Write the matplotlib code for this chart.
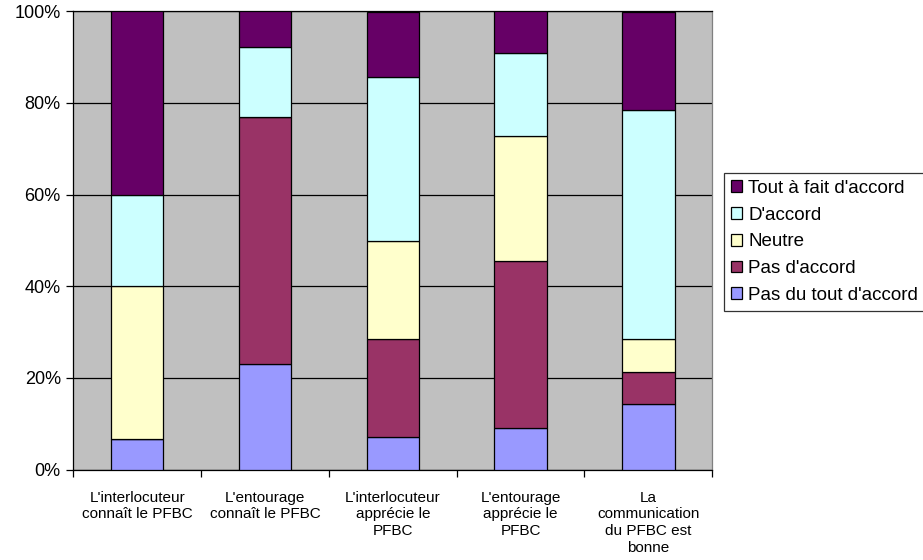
import numpy as np
import matplotlib.pyplot as plt
from matplotlib.ticker import FixedLocator, PercentFormatter

plt.rcParams['font.family'] = ['Liberation Sans', 'DejaVu Sans']

# ====================== DONNEES ======================
categories = [
    "L'interlocuteur\nconnaît le PFBC",
    "L'entourage\nconnaît le PFBC",
    "L'interlocuteur\napprécie le\nPFBC",
    "L'entourage\napprécie le\nPFBC",
    "La\ncommunication\ndu PFBC est\nbonne",
]

# pourcentages, du bas vers le haut
pas_du_tout = [6.7, 23.1, 7.1, 9.1, 14.3]
pas_accord = [0.0, 53.8, 21.4, 36.4, 7.1]
neutre = [33.3, 0.0, 21.4, 27.3, 7.1]
accord = [20.0, 15.4, 35.7, 18.2, 50.0]
tout_a_fait = [40.0, 7.7, 14.3, 9.1, 21.4]

series = [
    ("Pas du tout d'accord", pas_du_tout, "#9999FF"),
    ("Pas d'accord", pas_accord, "#993366"),
    ("Neutre", neutre, "#FFFFCC"),
    ("D'accord", accord, "#CCFFFF"),
    ("Tout à fait d'accord", tout_a_fait, "#660066"),
]

# ====================== FIGURE ======================
fig = plt.figure(figsize=(9.23, 5.6), dpi=100)
ax = fig.add_axes([0.0794, 0.1613, 0.6923, 0.8185])
ax.set_facecolor("#C0C0C0")

x = np.arange(len(categories))
bottom = np.zeros(len(categories))
handles = []
for name, vals, col in series:
    b = ax.bar(x, vals, width=0.41, bottom=bottom, color=col,
               edgecolor="black", linewidth=0.9, label=name, zorder=3)
    handles.append(b)
    bottom += np.array(vals)

ax.set_xlim(-0.5, len(categories) - 0.5)
ax.set_ylim(0, 100)
ax.set_yticks(np.arange(0, 101, 20))
ax.yaxis.set_major_formatter(PercentFormatter(decimals=0))
ax.yaxis.grid(True, color="black", linewidth=0.9, zorder=0)
ax.set_axisbelow(True)

ax.set_xticks(x)
ax.set_xticklabels(categories, fontsize=11, linespacing=1.27)
ax.xaxis.set_minor_locator(FixedLocator(np.arange(-0.5, len(categories), 1.0)))
ax.tick_params(axis="x", which="major", length=0, pad=15)
ax.tick_params(axis="x", which="minor", length=5, direction="out", width=0.9)
ax.tick_params(axis="y", length=5, direction="out", width=0.9, labelsize=13, pad=4)

for s in ["left", "bottom", "top"]:
    ax.spines[s].set_color("black")
    ax.spines[s].set_linewidth(0.9)
ax.spines["right"].set_color("#808080")
ax.spines["right"].set_linewidth(0.9)

leg = fig.legend(handles[::-1], [s[0] for s in series][::-1],
                 loc="upper left", bbox_to_anchor=(0.7844, 0.6916),
                 fontsize=13.5, frameon=True, fancybox=False,
                 edgecolor="black", handlelength=0.6, handleheight=0.6,
                 handletextpad=0.3, labelspacing=0.52, borderpad=0.38,
                 borderaxespad=0)
leg.get_frame().set_linewidth(0.9)

plt.savefig("out.png", dpi=100)
